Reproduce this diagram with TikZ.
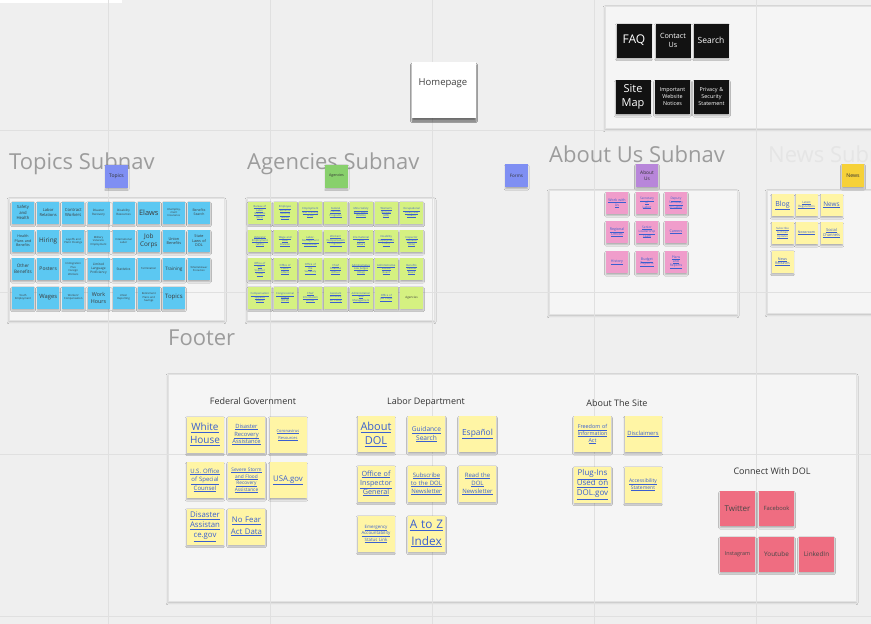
\documentclass[tikz,border=0pt]{standalone}
\usepackage{fontspec}
\setmainfont{Open Sans}
\usetikzlibrary{shadows.blur}
\newcommand\fsz[2]{\fontsize{#1}{#2}\selectfont}
% underlined link text, one line at a time
\newcommand\lk[1]{\leavevmode\vtop{\hbox{#1}\kern0.2ex\hrule height\dimexpr0.04em+0.1pt\relax}}

\definecolor{boardbg}{HTML}{EFEFEF}
\definecolor{gridline}{HTML}{E0E0E0}
\definecolor{framefill}{HTML}{F5F5F5}
\definecolor{framedraw}{HTML}{E2E2E2}
\definecolor{headgray}{HTML}{9C9C9C}
\definecolor{headfaint}{HTML}{E5E5E5}
\definecolor{topicblue}{HTML}{5CC8F2}
\definecolor{agencygreen}{HTML}{D5F181}
\definecolor{aboutpink}{HTML}{F09DCB}
\definecolor{noteyellow}{HTML}{FFF5A5}
\definecolor{socialred}{HTML}{EF6D81}
\definecolor{tagblue}{HTML}{7F8FF3}
\definecolor{taggreen}{HTML}{88D06C}
\definecolor{tagpurple}{HTML}{B886DA}
\definecolor{tagyellow}{HTML}{F6D138}
\definecolor{linkblue}{HTML}{3A5FD0}
\definecolor{notetext}{HTML}{3A3A3A}
\definecolor{stickyblack}{HTML}{121212}

\begin{document}
\begin{tikzpicture}[x=1pt,y=-1pt,
  sticky/.style={inner sep=0.6pt, align=center,
    blur shadow={shadow xshift=0pt, shadow yshift=-1.8pt, shadow blur radius=1.4pt, shadow opacity=28}},
  topicst/.style={sticky, fill=topicblue, minimum width=22pt, minimum height=22pt, text width=20.5pt, text=notetext, font=\fsz{3}{3.7}},
  agencyst/.style={sticky, fill=agencygreen, minimum width=23pt, minimum height=22pt, text width=21.5pt, text=linkblue, font=\fsz{2.7}{3.5}},
  aboutst/.style={sticky, fill=aboutpink, minimum width=22pt, minimum height=22pt, text width=20.5pt, text=linkblue, font=\fsz{3.6}{4.6}},
  newsst/.style={sticky, fill=noteyellow, minimum width=22pt, minimum height=22pt, text width=20.5pt, text=linkblue, font=\fsz{3.6}{4.6}},
  footst/.style={sticky, fill=noteyellow, minimum width=37pt, minimum height=36pt, text width=35pt, text=linkblue},
  socialst/.style={sticky, fill=socialred, minimum width=35pt, minimum height=35pt, text width=33pt, text=black!72},
  blackst/.style={sticky, fill=stickyblack, minimum width=35pt, minimum height=34pt, text width=33pt, text=white},
  tagst/.style={sticky, minimum width=22pt, minimum height=23pt, text width=21pt, text=black!80},
  framest/.style={fill=framefill, draw=framedraw, line width=0.5pt,
    blur shadow={shadow xshift=0pt, shadow yshift=-1.8pt, shadow blur radius=2pt, shadow opacity=22}},
  heading/.style={anchor=base west, text=headgray, font=\fsz{22}{26}, inner sep=0pt},
  subhead/.style={text=black!80, font=\fsz{9}{11}, inner sep=0pt}
]
\useasboundingbox (0,0) rectangle (871,624);
\fill[boardbg] (0,0) rectangle (871,624);
\fill[white] (0,0) rectangle (122,3);

% frames
\path[framest] (605,6) rectangle (885,128);
\path[framest] (9,198) rectangle (224,320);
\path[framest] (247,198) rectangle (434,320);
\path[framest] (549,190) rectangle (737,314);
\path[framest] (767,190) rectangle (885,313);
\path[framest] (168,374) rectangle (856,601);

% board grid
\foreach \gx in {108,270,432,594,756} \draw[gridline, line width=0.8pt] (\gx,0) -- (\gx,624);
\foreach \gy in {130,292,454,616} \draw[gridline, line width=0.8pt] (0,\gy) -- (871,\gy);

% utility links
\node[blackst, font=\fsz{12}{14}] (faq) at (634,40.5) {FAQ};
\node[blackst, font=\fsz{7.2}{9.5}] (contact) at (673,40.5) {Contact\\Us};
\node[blackst, font=\fsz{8.5}{10}] (search) at (711,40.5) {Search};
\node[blackst, font=\fsz{11}{14}] (sitemap) at (633,97) {Site\\Map};
\node[blackst, font=\fsz{5.4}{7}] (notices) at (672.5,97) {Important\\Website\\Notices};
\node[blackst, font=\fsz{5.4}{7}] (privacy) at (711.5,97) {Privacy \&\\Security\\Statement};

% homepage
\node[sticky, fill=white, minimum width=64pt, minimum height=56pt,
  blur shadow={shadow xshift=0pt, shadow yshift=-3pt, shadow blur radius=1.6pt, shadow opacity=32}] (home) at (444,90) {};
\node[font=\fsz{9.5}{11}, text=black!75, inner sep=0pt] (homelabel) at (443,83) {Homepage};

% section headings
\node[heading] (topicshead) at (9,169) {Topics Subnav};
\node[heading] (agencieshead) at (247,169) {Agencies Subnav};
\node[heading] (abouthead) at (549,162) {About Us Subnav};
\node[heading, text=headfaint] (newshead) at (768,162) {News Subnav};
\node[heading] (footerhead) at (168,345) {Footer};

% menu tags
\node[tagst, fill=tagblue, font=\fsz{5}{6}] (topicstag) at (116.5,176) {Topics};
\node[tagst, fill=taggreen, font=\fsz{3.6}{4.4}] (agenciestag) at (336.5,176) {Agencies};
\node[tagst, fill=tagblue, font=\fsz{4.5}{5.5}] (formstag) at (516.5,175.5) {Forms};
\node[tagst, fill=tagpurple, font=\fsz{4.8}{6}] (abouttag) at (647,175.5) {About\\Us};
\node[tagst, fill=tagyellow, font=\fsz{5.2}{6}] (newstag) at (853,175.5) {News};

% topics subnav
\node[topicst, font=\fsz{4.2}{5.2}] (t11) at (23,212.5) {Safety\\and\\Health};
\node[topicst, font=\fsz{4}{5}] (t12) at (48.2,212.5) {Labor\\Relations};
\node[topicst, font=\fsz{4.2}{5.2}] (t13) at (73.3,212.5) {Contract\\Workers};
\node[topicst] (t14) at (98.5,212.5) {Disaster\\Recovery};
\node[topicst] (t15) at (123.6,212.5) {Disability\\Resources};
\node[topicst, font=\fsz{7.4}{9}] (t16) at (148.8,212.5) {Elaws};
\node[topicst, font=\fsz{2.7}{3.4}] (t17) at (173.9,212.5) {Unemploy-\\ment\\Insurance};
\node[topicst, font=\fsz{3.4}{4.2}] (t18) at (199,212.5) {Benefits\\Search};
\node[topicst, font=\fsz{3.6}{4.6}] (t21) at (23,241) {Health\\Plans and\\Benefits};
\node[topicst, font=\fsz{6.4}{8}] (t22) at (48.2,241) {Hiring};
\node[topicst, font=\fsz{2.7}{3.4}] (t23) at (73.3,241) {Layoffs and\\Plant Closings};
\node[topicst, font=\fsz{2.7}{3.4}] (t24) at (98.5,241) {Military\\Veterans\\Employment};
\node[topicst, font=\fsz{2.7}{3.4}] (t25) at (123.6,241) {International\\Labor};
\node[topicst, font=\fsz{6.4}{8}] (t26) at (148.8,241) {Job\\Corps};
\node[topicst, font=\fsz{3.8}{4.6}] (t27) at (173.9,241) {Union\\Benefits};
\node[topicst, font=\fsz{3.8}{4.6}] (t28) at (199,241) {State\\Laws of\\DOL};
\node[topicst, font=\fsz{4.6}{6}] (t31) at (23,269) {Other\\Benefits};
\node[topicst, font=\fsz{5}{6}] (t32) at (48.2,269) {Posters};
\node[topicst, font=\fsz{2.7}{3.4}] (t33) at (73.3,269) {Immigration\\Plus\\Foreign\\Workers};
\node[topicst, font=\fsz{3.2}{4}] (t34) at (98.5,269) {Limited\\Language\\Proficiency};
\node[topicst, font=\fsz{3.4}{4.2}] (t35) at (123.6,269) {Statistics};
\node[topicst, font=\fsz{2.7}{3.4}] (t36) at (148.8,269) {Termination};
\node[topicst, font=\fsz{4.6}{5.6}] (t37) at (173.9,269) {Training};
\node[topicst, font=\fsz{2.5}{3.2}] (t38) at (199,269) {Whistleblower\\Protection};
\node[topicst, font=\fsz{2.7}{3.4}] (t41) at (23,297.5) {Youth\\Employment};
\node[topicst, font=\fsz{5.8}{7}] (t42) at (48.2,297.5) {Wages};
\node[topicst, font=\fsz{2.7}{3.4}] (t43) at (73.3,297.5) {Workers'\\Compensation};
\node[topicst, font=\fsz{5.4}{7}] (t44) at (98.5,297.5) {Work\\Hours};
\node[topicst, font=\fsz{2.7}{3.4}] (t45) at (123.6,297.5) {Union\\Reporting};
\node[topicst, font=\fsz{2.7}{3.4}] (t46) at (148.8,297.5) {Retirement\\Plans and\\Savings};
\node[topicst, font=\fsz{6}{7}] (t47) at (173.9,297.5) {Topics};

% agencies subnav
\node[agencyst] (a11) at (259.8,212.5) {\lk{Bureau of}\\\lk{Labor}\\\lk{Statistics}\\\lk{(BLS)}};
\node[agencyst] (a12) at (285.1,212.5) {\lk{Employee}\\\lk{Benefits}\\\lk{Security}\\\lk{(EBSA)}};
\node[agencyst] (a13) at (310.4,212.5) {\lk{Employment}\\\lk{and Training}\\\lk{(ETA)}};
\node[agencyst] (a14) at (335.7,212.5) {\lk{Federal}\\\lk{Contract}\\\lk{Programs}};
\node[agencyst] (a15) at (361,212.5) {\lk{Mine Safety}\\\lk{and Health}\\\lk{(MSHA)}};
\node[agencyst] (a16) at (386.3,212.5) {\lk{Women's}\\\lk{Bureau}\\\lk{(WB)}};
\node[agencyst] (a17) at (411.6,212.5) {\lk{Occupational}\\\lk{Safety and}\\\lk{Health}};
\node[agencyst] (a21) at (259.8,241) {\lk{Veterans'}\\\lk{Employment}\\\lk{(VETS)}};
\node[agencyst] (a22) at (285.1,241) {\lk{Wage and}\\\lk{Hour}\\\lk{Division}};
\node[agencyst] (a23) at (310.4,241) {\lk{Labor-}\\\lk{Management}\\\lk{Standards}};
\node[agencyst] (a24) at (335.7,241) {\lk{Workers'}\\\lk{Compensation}\\\lk{Programs}};
\node[agencyst] (a25) at (361,241) {\lk{International}\\\lk{Labor}\\\lk{Affairs}};
\node[agencyst] (a26) at (386.3,241) {\lk{Disability}\\\lk{Employment}\\\lk{Policy}};
\node[agencyst] (a27) at (411.6,241) {\lk{Inspector}\\\lk{General}\\\lk{(OIG)}};
\node[agencyst] (a31) at (259.8,269) {\lk{Office of}\\\lk{the}\\\lk{Solicitor}\\\lk{(SOL)}};
\node[agencyst] (a32) at (285.1,269) {\lk{Office of}\\\lk{Public}\\\lk{Affairs}};
\node[agencyst] (a33) at (310.4,269) {\lk{Office of}\\\lk{the}\\\lk{Secretary}};
\node[agencyst] (a34) at (335.7,269) {\lk{Chief}\\\lk{Financial}\\\lk{Officer}};
\node[agencyst] (a35) at (361,269) {\lk{Administrative}\\\lk{Law Judges}\\\lk{(OALJ)}};
\node[agencyst] (a36) at (386.3,269) {\lk{Administrative}\\\lk{Review}\\\lk{Board}};
\node[agencyst] (a37) at (411.6,269) {\lk{Benefits}\\\lk{Review}\\\lk{Board}};
\node[agencyst] (a41) at (259.8,297.5) {\lk{Compensation}\\\lk{Appeals}\\\lk{Board}};
\node[agencyst] (a42) at (285.1,297.5) {\lk{Congressional}\\\lk{Affairs}\\\lk{(OCIA)}};
\node[agencyst] (a43) at (310.4,297.5) {\lk{Chief}\\\lk{Information}\\\lk{Officer}};
\node[agencyst] (a44) at (335.7,297.5) {\lk{Assistant}\\\lk{Secretary}\\\lk{for Policy}};
\node[agencyst] (a45) at (361,297.5) {\lk{Administration}\\\lk{and}\\\lk{Management}};
\node[agencyst] (a46) at (386.3,297.5) {\lk{Office of}\\\lk{Job Corps}};
\node[agencyst, text=notetext, font=\fsz{3}{3.6}] (a47) at (411.6,297.5) {Agencies};

% about us subnav
\node[aboutst] (u11) at (617,203) {\lk{Work with}\\\lk{Us}};
\node[aboutst, font=\fsz{3.2}{4.2}] (u12) at (647,203) {\lk{Secretary}\\\lk{of}\\\lk{Labor}};
\node[aboutst, font=\fsz{3.2}{4.2}] (u13) at (676,203) {\lk{Deputy}\\\lk{Secretary}\\\lk{of Labor}};
\node[aboutst] (u21) at (617,232) {\lk{Regional}\\\lk{Offices}};
\node[aboutst, font=\fsz{3.2}{4.2}] (u22) at (647,232) {\lk{Senior}\\\lk{Leadership}\\\lk{Team}};
\node[aboutst] (u23) at (676,232) {\lk{Careers}};
\node[aboutst] (u31) at (617,262) {\lk{History}};
\node[aboutst] (u32) at (647,262) {\lk{Budget}\\\lk{Reports}};
\node[aboutst, font=\fsz{3.4}{4.4}] (u33) at (676,262) {\lk{Plans}\\\lk{and}\\\lk{Reports}};

% news subnav
\node[newsst, font=\fsz{7}{8}] (n11) at (782.5,205) {\lk{Blog}};
\node[newsst, font=\fsz{3}{3.8}] (n12) at (806.5,205) {\lk{Latest}\\\lk{Regulations}};
\node[newsst, font=\fsz{6.4}{8}] (n13) at (831.5,205) {\lk{News}};
\node[newsst, font=\fsz{2.8}{3.6}] (n21) at (782.5,233) {\lk{Subscribe}\\\lk{to Email}\\\lk{Updates}};
\node[newsst, font=\fsz{3.4}{4.2}] (n22) at (806.5,233) {\lk{Newsroom}};
\node[newsst, font=\fsz{4}{5}] (n23) at (831.5,233) {\lk{Social}\\\lk{Channels}};
\node[newsst, font=\fsz{3.6}{4.6}] (n31) at (782.5,261.5) {\lk{News}\\\lk{Releases}};

% footer column headings
\node[subhead] (fedhead) at (253,401) {Federal Government};
\node[subhead] (laborhead) at (426,402) {Labor Department};
\node[subhead] (sitehead) at (617,403) {About The Site};
\node[subhead] (connecthead) at (772,471) {Connect With DOL};

% federal government
\node[footst, font=\fsz{10}{13}] (f11) at (205,434.5) {\lk{White}\\\lk{House}};
\node[footst, font=\fsz{5.8}{7.6}] (f12) at (246.5,434.5) {\lk{Disaster}\\\lk{Recovery}\\\lk{Assistance}};
\node[footst, font=\fsz{4}{7}] (f13) at (288,434.5) {\lk{Coronavirus}\\\lk{Resources}};
\node[footst, font=\fsz{6}{8.4}] (f21) at (205,480) {\lk{U.S. Office}\\\lk{of Special}\\\lk{Counsel}};
\node[footst, font=\fsz{4.8}{6.5}] (f22) at (246.5,480) {\lk{Severe Storm}\\\lk{and Flood}\\\lk{Recovery}\\\lk{Assistance}};
\node[footst, font=\fsz{7.8}{9}] (f23) at (288,480) {\lk{USA.gov}};
\node[footst, font=\fsz{7.8}{10}] (f31) at (205,526.5) {\lk{Disaster}\\\lk{Assistan}\\\lk{ce.gov}};
\node[footst, font=\fsz{7.8}{11.5}] (f32) at (246.5,526.5) {\lk{No Fear}\\\lk{Act Data}};

% labor department
\node[footst, font=\fsz{11}{14}] (l11) at (376,434) {\lk{About}\\\lk{DOL}};
\node[footst, font=\fsz{6.6}{8.4}] (l12) at (426.5,434) {\lk{Guidance}\\\lk{Search}};
\node[footst, font=\fsz{8.4}{10}] (l13) at (477.5,434) {\lk{Español}};
\node[footst, font=\fsz{7.2}{9}] (l21) at (376,483.5) {\lk{Office of}\\\lk{Inspector}\\\lk{General}};
\node[footst, font=\fsz{6}{8.2}] (l22) at (426.5,483.5) {\lk{Subscribe}\\\lk{to the DOL}\\\lk{Newsletter}};
\node[footst, font=\fsz{6}{8.2}] (l23) at (477.5,483.5) {\lk{Read the}\\\lk{DOL}\\\lk{Newsletter}};
\node[footst, font=\fsz{4.4}{6.5}] (l31) at (376,533.5) {\lk{Emergency}\\\lk{Accountability}\\\lk{Status Link}};
\node[footst, font=\fsz{11.8}{16.5}] (l32) at (426.5,533.5) {\lk{A to Z}\\\lk{Index}};

% about the site
\node[footst, font=\fsz{5.4}{6.7}] (s11) at (592.5,434) {\lk{Freedom of}\\\lk{Information}\\\lk{Act}};
\node[footst, font=\fsz{5.8}{7}] (s12) at (643,434) {\lk{Disclaimers}};
\node[footst, font=\fsz{8}{10}] (s21) at (592.5,484.5) {\lk{Plug-Ins}\\\lk{Used on}\\\lk{DOL.gov}};
\node[footst, font=\fsz{5}{7}] (s22) at (643,484.5) {\lk{Accessibility}\\\lk{Statement}};

% connect with DOL
\node[socialst, font=\fsz{8}{9}] (twitter) at (737.5,508.5) {Twitter};
\node[socialst, font=\fsz{5.8}{7}] (facebook) at (776.5,508.5) {Facebook};
\node[socialst, font=\fsz{5.4}{7}] (instagram) at (737.5,554) {Instagram};
\node[socialst, font=\fsz{6.4}{7}] (youtube) at (776.5,554) {Youtube};
\node[socialst, font=\fsz{6.4}{7}] (linkedin) at (816.5,554) {LinkedIn};
\end{tikzpicture}
\end{document}
